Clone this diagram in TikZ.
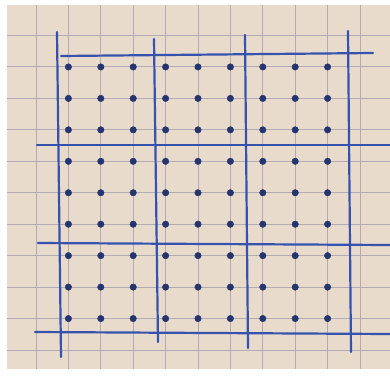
\documentclass[tikz,border=0pt]{standalone}
\usepackage{tikz}
\usetikzlibrary{positioning}
\definecolor{paper}{HTML}{E9DBCB}
\definecolor{gridgray}{HTML}{B3ABB3}
\definecolor{penblue}{HTML}{3553AE}
\definecolor{dotblue}{HTML}{24346F}
\begin{document}
\begin{tikzpicture}[x=1pt, y=-1pt, every node/.style={circle, draw=dotblue, fill=dotblue, inner sep=0pt, minimum size=6.5pt},
    gridline/.style={draw=gridgray, line width=1pt},
    penline/.style={draw=penblue, line width=2.2pt, line cap=round}]
    \useasboundingbox (0,0) rectangle (390,375);
    % Paper
    \fill[white] (0,0) rectangle (390,375);
    \fill[paper] (7,5) rectangle (390,369);
    \foreach \k in {0,...,10} {
      \draw[gridline] ({36+32.4*\k},5) -- ({36+32.4*\k},369);
      \draw[gridline] (7,{35.5+31.45*\k}) -- (390,{35.5+31.45*\k});
    }

    % Pen lines
    \draw[penline] (61,56) -- (373,53);
    \draw[penline] (37,145) -- (390,145);
    \draw[penline] (38,243) -- (390,245);
    \draw[penline] (35,332) -- (390,334);
    \draw[penline] (57,32) -- (61,357);
    \draw[penline] (154,39) -- (158,342);
    \draw[penline] (245,35) -- (248,348);
    \draw[penline] (348,31) -- (351,352);

    % Dots
    \foreach \i in {1,...,9}
      \foreach \j in {1,...,9}
        \node (d\i\j) at ({36+32.4*\i},{35.5+31.45*\j}) {};
  \end{tikzpicture}
\end{document}
